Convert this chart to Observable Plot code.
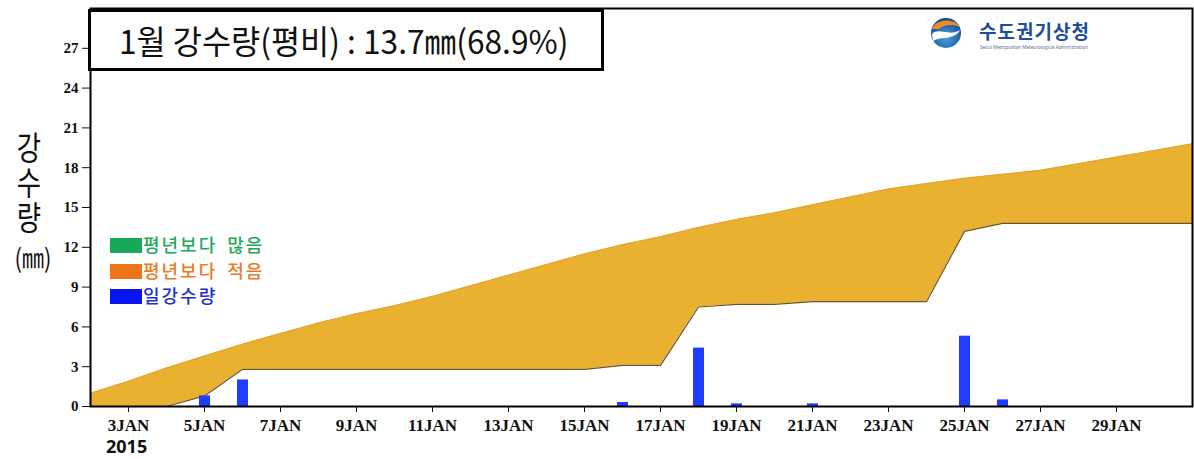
<!DOCTYPE html>
<html>
<head>
<meta charset="utf-8">
<script src="https://cdn.jsdelivr.net/npm/d3@7"></script>
<script src="https://cdn.jsdelivr.net/npm/@observablehq/plot@0.6"></script>
<style>
  html, body { margin: 0; padding: 0; background: #fff; }
  #wrap { position: relative; width: 1194px; height: 459px; overflow: hidden; }
  #chart { position: absolute; left: 0; top: 0; }
  .abs { position: absolute; white-space: nowrap; }
  #title { left: 88px; top: 9px; width: 482px; height: 56px; border: 3px solid #000; background: #fff;
           font-family: "Noto Sans CJK KR", sans-serif; font-size: 33px; line-height: 56px; padding-left: 28px; box-sizing: content-box; color: #111; }
  #title span { display: inline-block; transform: scaleX(0.96); transform-origin: left center; }
  #yl { left: 12px; top: 131px; font-family: "Noto Sans CJK KR", sans-serif; font-size: 33px; line-height: 34px; color: #111;
        writing-mode: vertical-rl; text-orientation: upright; letter-spacing: 2px; transform: scaleX(0.8); transform-origin: center top; }
  #ylu { left: 6px; top: 242px; width: 54px; text-align: center; font-family: "Noto Sans CJK KR", sans-serif; font-size: 26px; line-height: 30px; color: #111; transform: scaleX(0.85); }
  .leg { left: 110px; font-family: "Noto Sans CJK KR", sans-serif; font-size: 18px; font-weight: 500; line-height: 20px; letter-spacing: 2px; word-spacing: 4px; }
  .leg i { display: inline-block; width: 32px; height: 15px; vertical-align: -1px; margin-right: 1px; }
  #year { left: 106px; top: 437px; font-family: "Noto Sans", sans-serif; font-weight: bold; font-size: 18px; line-height: 18px; color: #111; }
  #logo { left: 930px; top: 17px; }
  #logoTxt { left: 979px; top: 18px; font-family: "Noto Sans CJK KR", sans-serif; font-weight: bold; font-size: 19px; color: #1d4f9c; line-height: 26px; letter-spacing: 1px; }
  #logoSub { left: 980px; top: 44px; font-family: "Noto Sans", sans-serif; font-size: 4.6px; color: #5a6f9a; }
</style>
</head>
<body>
<div id="wrap">
  <div id="chart"></div>
  <div id="title" class="abs"><span>1월 강수량(평비) : 13.7㎜(68.9%)</span></div>
  <div id="yl" class="abs">강수량</div>
  <div id="ylu" class="abs">(㎜)</div>
  <div class="abs leg" style="top:234px;color:#22a85c"><i style="background:#19a85a"></i>평년보다 많음</div>
  <div class="abs leg" style="top:260px;color:#ea7a2a"><i style="background:#ee7418"></i>평년보다 적음</div>
  <div class="abs leg" style="top:285px;color:#1c2fd6"><i style="background:#0a14f0"></i>일강수량</div>
  <div id="year" class="abs">2015</div>
  <svg id="logo" class="abs" width="34" height="34" viewBox="0 0 34 34">
    <defs>
      <radialGradient id="gb" cx="50%" cy="65%" r="60%">
        <stop offset="0%" stop-color="#4fa3e0"/>
        <stop offset="100%" stop-color="#0d4d9a"/>
      </radialGradient>
    </defs>
    <circle cx="16" cy="16" r="15" fill="url(#gb)"/>
    <path d="M2,12 C5,2 24,0 30,10 C24,7 14,7 9,12 Z" fill="#f08a24"/>
    <path d="M2,17 C9,10 19,20 30,13 C25,23 12,19 3,24 Z" fill="#ffffff"/>
  </svg>
  <div id="logoTxt" class="abs">수도권기상청</div>
  <div id="logoSub" class="abs">Seoul Metropolitan Meteorological Administration</div>
</div>
<script>
// ---- data ----
const dayNums = [2,3,4,5,6,7,8,9,10,11,12,13,14,15,16,17,18,19,20,21,22,23,24,25,26,27,28,29,30,31];
const normalCum = [1.0,1.9,2.9,3.8,4.7,5.5,6.3,7.0,7.6,8.3,9.1,9.9,10.7,11.5,12.2,12.8,13.5,14.1,14.6,15.2,15.8,16.4,16.8,17.2,17.5,17.8,18.3,18.8,19.3,19.8];
const observedCum = [0,0,0,0.8,2.8,2.8,2.8,2.8,2.8,2.8,2.8,2.8,2.8,2.8,3.1,3.1,7.5,7.7,7.7,7.9,7.9,7.9,7.9,13.2,13.8,13.8,13.8,13.8,13.8,13.8];
const rainDays = [5,6,16,18,19,21,25,26];
const rainDaily = [0.8,2.0,0.3,4.4,0.2,0.2,5.3,0.5];
const xTickDays = [3,5,7,9,11,13,15,17,19,21,23,25,27,29];
const yTicks = [0,3,6,9,12,15,18,21,24,27];

const jan = d => new Date(Date.UTC(2015, 0, d));
const cum = dayNums.map((d, i) => ({date: jan(d), normal: normalCum[i], obs: observedCum[i]}));
const daily = rainDays.map((d, i) => ({date: jan(d), v: rainDaily[i]}));

const serif = "Liberation Serif, serif";
const chart = Plot.plot({
  width: 1194, height: 459,
  marginLeft: 90, marginRight: 2, marginTop: 8, marginBottom: 53,
  style: {fontFamily: serif, fontSize: "15px", color: "#111", background: "transparent"},
  x: {type: "utc", domain: [jan(2), jan(31)], label: null},
  y: {domain: [0, 30], label: null},
  marks: [
    Plot.areaY(cum, {x: "date", y1: "obs", y2: "normal", fill: "#EAB030"}),
    Plot.line(cum, {x: "date", y: "normal", stroke: "#e5a428", strokeWidth: 1}),
    Plot.line(cum, {x: "date", y: "obs", stroke: "#6b5322", strokeWidth: 1.2}),
    Plot.ruleX(daily, {x: "date", y1: 0, y2: "v", stroke: "#1f3cff", strokeWidth: 11}),
    Plot.axisX({ticks: xTickDays.map(jan), tickFormat: d => d.getUTCDate() + "JAN", tickSize: 6, tickPadding: 6, label: null, fontSize: 17, fontWeight: "bold", fontFamily: serif}),
    Plot.axisY({ticks: yTicks, tickSize: 8, tickPadding: 4, label: null, fontSize: 15, fontWeight: "bold", fontFamily: serif}),
    Plot.frame({stroke: "#000", strokeWidth: 2})
  ]
});
document.getElementById("chart").appendChild(chart);
</script>
</body>
</html>
